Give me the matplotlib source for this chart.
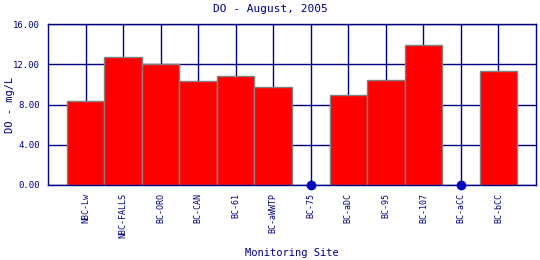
import numpy as np
import matplotlib.pyplot as plt

sites = ["NBC-Lw", "NBC-FALLS", "BC-ORO", "BC-CAN", "BC-61", "BC-aWWTP",
         "BC-75", "BC-aDC", "BC-95", "BC-107", "BC-aCC", "BC-bCC"]
do_values = [8.35, 12.7, 12.0, 10.35, 10.8, 9.75, np.nan, 8.95, 10.45, 13.9, np.nan, 11.35]
y_ticks = [0, 4, 8, 12, 16]

navy = "#000080"
plt.rcParams["font.family"] = ["DejaVu Sans Mono", "DejaVu Sans"]

fig = plt.figure(figsize=(5.4, 2.6), dpi=100)
ax = fig.add_axes([48 / 540, 75 / 260, 488 / 540, 161 / 260])

x = np.arange(1, len(sites) + 1)
vals = np.array(do_values, dtype=float)
have = ~np.isnan(vals)

ax.set_axisbelow(True)
ax.grid(True, color=navy, linewidth=1)
ax.bar(x[have], vals[have], width=1.0, color="#ff0000", edgecolor="#808080", linewidth=1, zorder=2)
ax.plot(x[~have], np.zeros((~have).sum()), "o", color="#0000c0", markersize=6, clip_on=False, zorder=3)

ax.set_xlim(0, len(sites) + 1)
ax.set_ylim(0, 16)
ax.set_xticks(x)
ax.set_xticklabels(sites, rotation=90, fontsize=6, color=navy)
ax.set_yticks(y_ticks)
ax.set_yticklabels([f"{v:.2f}" for v in y_ticks], fontsize=6.5, color=navy)
ax.tick_params(length=0, pad=6)
for s in ax.spines.values():
    s.set_color(navy)
    s.set_linewidth(1)

# axis titles placed in figure coords to match the reference layout
fig.text(292 / 540, 1 - 253 / 260, "Monitoring Site", ha="center", va="center", fontsize=7.5, color=navy)
fig.text(10 / 540, 1 - 105 / 260, "DO - mg/L", ha="center", va="center", rotation=90,
         fontsize=7.5, color=navy)
fig.text(0.5, 1 - 9 / 260, "DO - August, 2005", ha="center", va="center", fontsize=8, color=navy)

fig.savefig("out.png", dpi=100)
